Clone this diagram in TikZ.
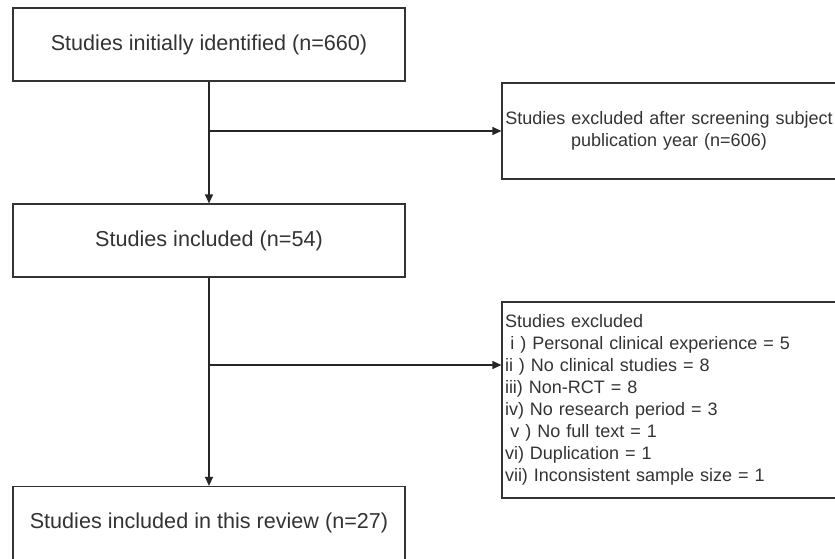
\documentclass[tikz,border=0pt]{standalone}
\usepackage{fontspec}
\setmainfont{Liberation Sans}
\usetikzlibrary{arrows.meta}

\begin{document}
\begin{tikzpicture}
    [
        x = 1pt, y = -1pt,
        every node/.style = {text=black!80},
        stagebox/.style = {shape=rectangle, draw=black!80, line width=1.2pt,
            minimum width=392pt, minimum height=73pt,
            font=\fontsize{21.6}{25}\selectfont},
        exclbox/.style = {shape=rectangle, draw=black!80, line width=1.2pt,
            inner xsep=3pt, text width=328pt,
            font=\fontsize{18}{22}\selectfont},
        flow/.style = {draw=black!85, line width=1.2pt,
            -{Triangle[length=9pt,width=8pt]}}
    ]
    \useasboundingbox (0,0) rectangle (835,559);
    % main stages
    \node[stagebox] (ident) at (209,44.5) {Studies initially identified (n=660)};
    \node[stagebox] (incl) at (209,240.5) {Studies included (n=54)};
    \node[stagebox] (review) at (209,523) {Studies included in this review (n=27)};
    % exclusions
    \node[exclbox, align=center, minimum height=96pt] (excl1) at (669,131)
        {Studies excluded after screening subject\\ publication year (n=606)};
    \node[exclbox, align=left, minimum height=196pt] (excl2) at (669,400)
        {Studies excluded\\
         \hspace*{0.3em}i ) Personal clinical experience = 5\\
         ii ) No clinical studies = 8\\
         iii) Non-RCT = 8\\
         iv) No research period = 3\\
         \hspace*{0.3em}v ) No full text = 1\\
         vi) Duplication = 1\\
         vii) Inconsistent sample size = 1};
    \coordinate (split2) at (incl.south |- 0,365);
    \draw[flow] (ident) -- (incl);
    \draw[flow] (incl) -- (review);
    \draw[flow] (ident.south |- excl1.west) -- (excl1.west);
    \draw[flow] (split2) -- (split2 -| excl2.west);
\end{tikzpicture}
\end{document}
